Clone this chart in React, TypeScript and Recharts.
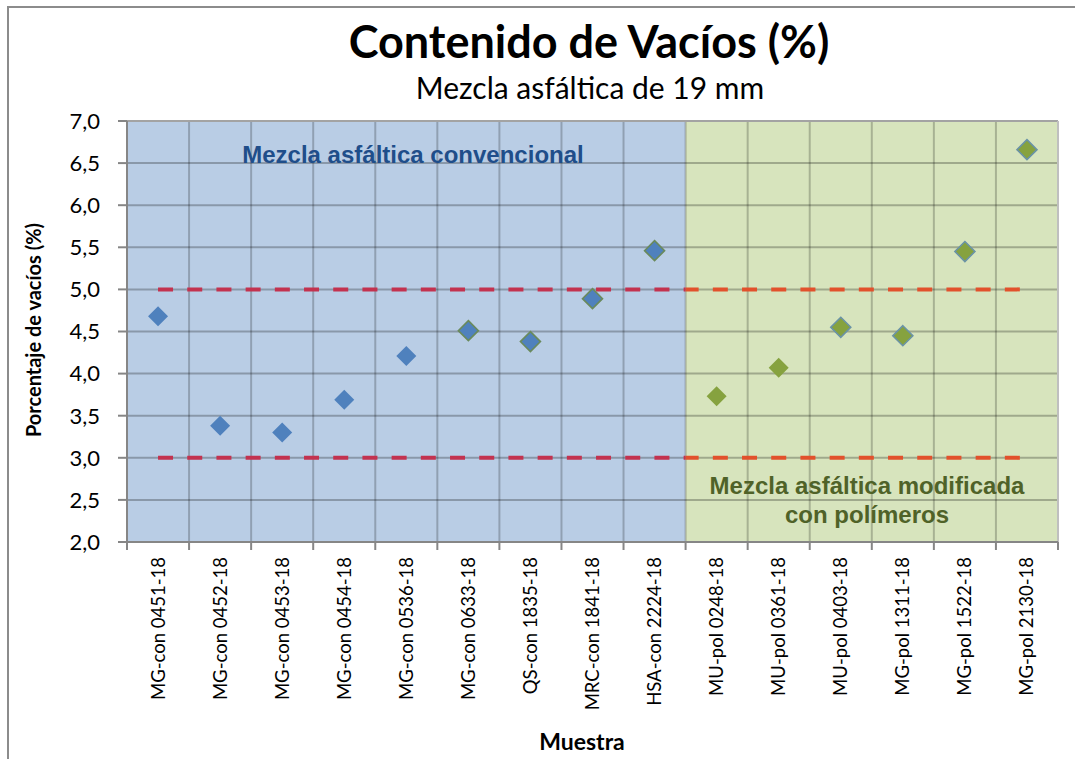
import React from 'react';
import { ScatterChart, Scatter, XAxis, YAxis, ReferenceArea, ReferenceLine } from 'recharts';

// ---------- data ----------
const categories = [
  'MG-con 0451-18',
  'MG-con 0452-18',
  'MG-con 0453-18',
  'MG-con 0454-18',
  'MG-con 0536-18',
  'MG-con 0633-18',
  'QS-con 1835-18',
  'MRC-con 1841-18',
  'HSA-con 2224-18',
  'MU-pol 0248-18',
  'MU-pol 0361-18',
  'MU-pol 0403-18',
  'MG-pol 1311-18',
  'MG-pol 1522-18',
  'MG-pol 2130-18',
];
const conventionalValues = [4.68, 3.38, 3.3, 3.69, 4.21, 4.51, 4.38, 4.89, 5.46];
const polymerValues = [3.73, 4.07, 4.55, 4.45, 5.45, 6.66];
const yTicks = [2.0, 2.5, 3.0, 3.5, 4.0, 4.5, 5.0, 5.5, 6.0, 6.5, 7.0];
const upperLimit = 5.0;
const lowerLimit = 3.0;
const chartTitle = 'Contenido de Vacíos (%)';
const chartSubtitle = 'Mezcla asfáltica de 19 mm';
const yAxisTitle = 'Porcentaje de vacíos (%)';
const xAxisTitle = 'Muestra';
const regionConventional = 'Mezcla asfáltica convencional';
const regionPolymerLines = ['Mezcla asfáltica modificada', 'con polímeros'];

// ---------- layout ----------
const CHART_W = 1075;
const CHART_H = 759;
const MARGIN = { top: 121, right: 17, bottom: 0, left: 0 };
const Y_AXIS_W = 127;
const X_AXIS_H = 217;
const PLOT_W = CHART_W - MARGIN.left - MARGIN.right - Y_AXIS_W;
const HALF_CAT = PLOT_W / categories.length / 2;
const NCONV = conventionalValues.length;
const NCAT = categories.length;

const convData = conventionalValues.map((v, i) => ({ x: i + 0.5, y: v, idx: i }));
const polData = polymerValues.map((v, i) => ({ x: NCONV + i + 0.5, y: v, idx: NCONV + i }));
const xTicks = Array.from({ length: NCAT + 1 }, (_, i) => i);

const OUTLINED = new Set([5, 6, 7, 8, 11, 12, 13, 14]);

const makeDiamond = (fill: string, outline: string) => (props: any) => {
  const { cx, cy, payload } = props;
  const r = 10;
  const has = payload && OUTLINED.has(payload.idx);
  return (
    <polygon
      points={`${cx},${cy - r} ${cx + r},${cy} ${cx},${cy + r} ${cx - r},${cy}`}
      fill={fill}
      stroke={has ? outline : 'none'}
      strokeWidth={has ? 1.6 : 0}
    />
  );
};

const DASH = 15;
const GAP = 14.2;
const PERIOD = DASH + GAP;
const limitStart = 0.5;
const limitEnd = NCAT - 0.5;

const LimitShape = (props: any) => {
  const { x1, y1, x2, y2 } = props;
  const t = (NCONV - limitStart) / (limitEnd - limitStart);
  const xb = x1 + (x2 - x1) * t;
  const off = (xb - x1) % PERIOD;
  return (
    <g>
      <line x1={x1} y1={y1} x2={xb} y2={y2} stroke="#C3324F" strokeWidth={4} strokeDasharray={`${DASH} ${GAP}`} />
      <line
        x1={xb}
        y1={y1}
        x2={x2}
        y2={y2}
        stroke="#E2512C"
        strokeWidth={4}
        strokeDasharray={`${DASH} ${GAP}`}
        strokeDashoffset={off}
      />
    </g>
  );
};

const XTick = (props: any) => {
  const { x, y, payload } = props;
  const i = payload.value;
  if (i >= NCAT) return <g />;
  const tx = x + HALF_CAT;
  const ty = y + 5;
  return (
    <text
      x={tx}
      y={ty}
      transform={`rotate(-90, ${tx}, ${ty})`}
      textAnchor="end"
      dy="0.35em"
      fontSize={18.5}
      fontFamily="Lato"
      fill="#000"
    >
      {categories[i]}
    </text>
  );
};

const fmt = (v: number) => v.toFixed(1).replace('.', ',');

export default function App() {
  const gridStroke = '#000';
  return (
    <div
      style={{
        position: 'absolute',
        left: 0,
        top: 0,
        width: CHART_W,
        height: CHART_H,
        overflow: 'hidden',
        background: '#fff',
      }}
    >
      <div
        style={{
          position: 'absolute',
          left: 7,
          top: 6,
          width: 2000,
          height: 2000,
          borderLeft: '2px solid #8C8C8C',
          borderTop: '2px solid #8C8C8C',
        }}
      />
      <div style={{ position: 'absolute', left: 0, top: 0 }}>
        <ScatterChart width={CHART_W} height={CHART_H} margin={MARGIN}>
          <XAxis
            type="number"
            dataKey="x"
            domain={[0, NCAT]}
            ticks={xTicks}
            interval={0}
            height={X_AXIS_H}
            tick={<XTick />}
            tickSize={8}
            axisLine={{ stroke: '#868686', strokeWidth: 2 }}
            tickLine={{ stroke: '#868686', strokeWidth: 2 }}
            allowDecimals
          />
          <YAxis
            type="number"
            dataKey="y"
            domain={[2, 7]}
            ticks={yTicks}
            interval={0}
            width={Y_AXIS_W}
            tickFormatter={fmt}
            tick={{ fill: '#000', fontSize: 22, fontFamily: 'Lato' }}
            tickSize={9}
            tickMargin={18}
            axisLine={{ stroke: '#868686', strokeWidth: 2 }}
            tickLine={{ stroke: '#868686', strokeWidth: 2 }}
          />
          <ReferenceArea x1={0} x2={NCONV} y1={2} y2={7} fill="#B9CDE5" fillOpacity={1} stroke="none" />
          <ReferenceArea x1={NCONV} x2={NCAT} y1={2} y2={7} fill="#D7E4BD" fillOpacity={1} stroke="none" />
          {yTicks.slice(1, -1).map((t) => (
            <ReferenceLine key={`h${t}`} y={t} stroke={gridStroke} strokeOpacity={0.26} strokeWidth={2} />
          ))}
          {xTicks.slice(1, -1).map((t) => (
            <ReferenceLine key={`v${t}`} x={t} stroke={gridStroke} strokeOpacity={0.22} strokeWidth={2} />
          ))}
          <ReferenceLine y={7} stroke="#A3A3A3" strokeWidth={2} />
          <ReferenceLine x={NCAT} stroke="#BFBFBF" strokeWidth={2} />
          <ReferenceLine
            segment={[
              { x: limitStart, y: upperLimit },
              { x: limitEnd, y: upperLimit },
            ]}
            shape={LimitShape}
          />
          <ReferenceLine
            segment={[
              { x: limitStart, y: lowerLimit },
              { x: limitEnd, y: lowerLimit },
            ]}
            shape={LimitShape}
          />
          <Scatter data={convData} isAnimationActive={false} shape={makeDiamond('#4F81BD', '#6A8A5C')} />
          <Scatter data={polData} isAnimationActive={false} shape={makeDiamond('#86A23F', '#6A93A6')} />
        </ScatterChart>
      </div>
      <svg
        width={CHART_W}
        height={CHART_H}
        style={{ position: 'absolute', left: 0, top: 0, pointerEvents: 'none' }}
      >
        <text x={589} y={58} textAnchor="middle" fontFamily="Lato" fontWeight="bold" fontSize={45} fill="#000">
          {chartTitle}
        </text>
        <text x={590} y={99} textAnchor="middle" fontFamily="Lato" fontSize={30} fill="#000">
          {chartSubtitle}
        </text>
        <text
          x={41}
          y={330}
          transform="rotate(-90, 41, 330)"
          textAnchor="middle"
          fontFamily="Lato"
          fontWeight="bold"
          fontSize={20}
          fill="#000"
        >
          {yAxisTitle}
        </text>
        <text x={582} y={750} textAnchor="middle" fontFamily="Lato" fontWeight="bold" fontSize={23} fill="#000">
          {xAxisTitle}
        </text>
        <text
          x={413}
          y={163}
          textAnchor="middle"
          fontFamily="Liberation Sans, Arial"
          fontWeight="bold"
          fontSize={24}
          fill="#1F4E8A"
        >
          {regionConventional}
        </text>
        {regionPolymerLines.map((l, i) => (
          <text
            key={l}
            x={867}
            y={494 + i * 29}
            textAnchor="middle"
            fontFamily="Liberation Sans, Arial"
            fontWeight="bold"
            fontSize={24}
            fill="#4F6228"
          >
            {l}
          </text>
        ))}
      </svg>
    </div>
  );
}
